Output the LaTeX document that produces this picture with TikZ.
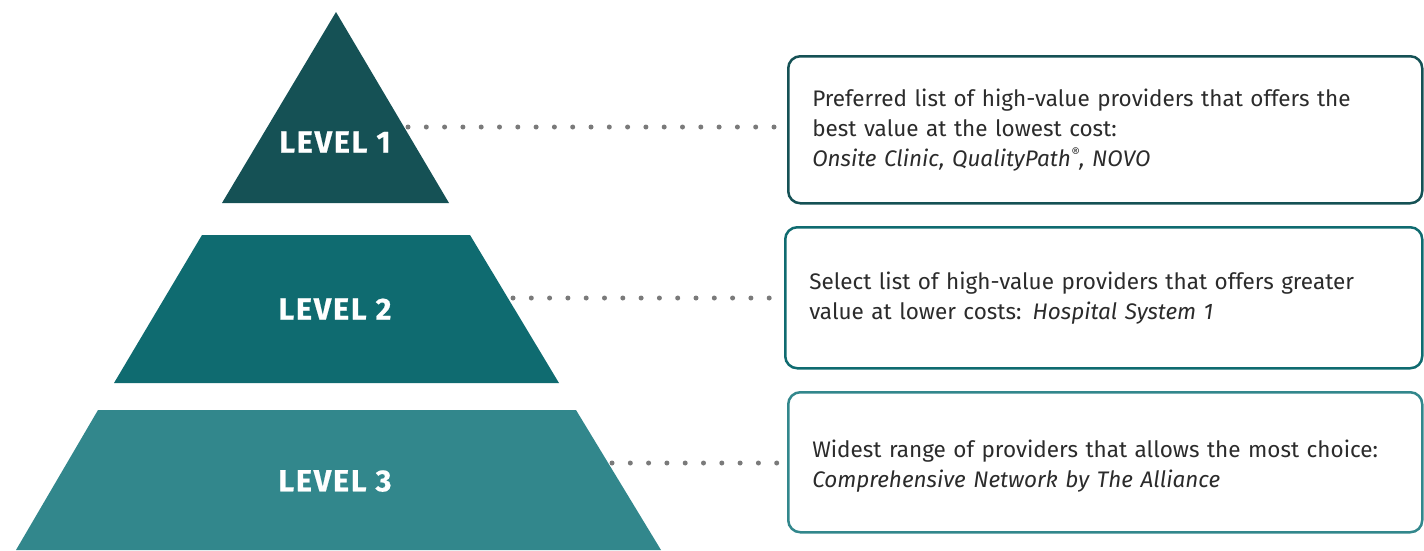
\documentclass[tikz,border=0pt]{standalone}
\usepackage{fontspec}
\setmainfont{Fira Sans}
\newfontfamily\levelfont[LetterSpace=6,BoldFeatures={FakeBold=0.6}]{Fira Sans}
\definecolor{lvlone}{HTML}{155155}
\definecolor{lvltwo}{HTML}{0F6B70}
\definecolor{lvlthree}{HTML}{32878C}
\definecolor{dotgray}{HTML}{7A7A7A}
\definecolor{txtgray}{HTML}{2B2B2B}
\begin{document}
\begin{tikzpicture}[x=1pt,y=-1pt,
  lvltext/.style={text=white,font=\levelfont\bfseries\fontsize{30.5}{32}\selectfont,inner sep=0pt},
  infobox/.style={draw=#1,line width=2.5pt,rounded corners=12pt,fill=white,
    anchor=north west,inner xsep=24pt,inner ysep=0pt,align=left,
    font=\fontsize{22.5}{30}\selectfont,text=txtgray},
  dotline/.style={dotgray,line width=5pt,line cap=round,dash pattern=on 0pt off 18.3pt}]
\useasboundingbox (0,0) rectangle (1424,550);
% pyramid
\fill[lvlone] (336,12) -- (449,203) -- (222,203) -- cycle;
\fill[lvltwo] (202,235) -- (470,235) -- (559,383) -- (114,383) -- cycle;
\fill[lvlthree] (98,410) -- (576,410) -- (661,550) -- (16,550) -- cycle;
\node[lvltext] (l1) at (335,142) {LEVEL 1};
\node[lvltext] (l2) at (335,309) {LEVEL 2};
\node[lvltext] (l3) at (335,481) {LEVEL 3};
% boxes
\node[infobox=lvlone,minimum width=634pt,minimum height=147pt,text width=586pt] (b1) at (787,55)
  {Preferred list of high-value providers that offers the\\best value at the lowest cost:\\\textit{Onsite Clinic, QualityPath\raisebox{0.75ex}{\fontsize{13}{13}\selectfont ®}, NOVO}};
\node[infobox=lvltwo,minimum width=637pt,minimum height=141pt,text width=589pt] (b2) at (784,226)
  {Select list of high-value providers that offers greater\\value at lower costs: \textit{Hospital System 1}};
\node[infobox=lvlthree,minimum width=634pt,minimum height=140pt,text width=586pt] (b3) at (787,391)
  {\rule{0pt}{25pt}Widest range of providers that allows the most choice:\\\textit{Comprehensive Network by The Alliance}};
% dotted connectors
\coordinate (d1) at (408,127);
\coordinate (d2) at (513,298);
\coordinate (d3) at (612,463);
\draw[dotline] (d1) -- (d1 -| b1.west);
\draw[dotline] (d2) -- (d2 -| b2.west);
\draw[dotline] (d3) -- (d3 -| b3.west);
\end{tikzpicture}
\end{document}
